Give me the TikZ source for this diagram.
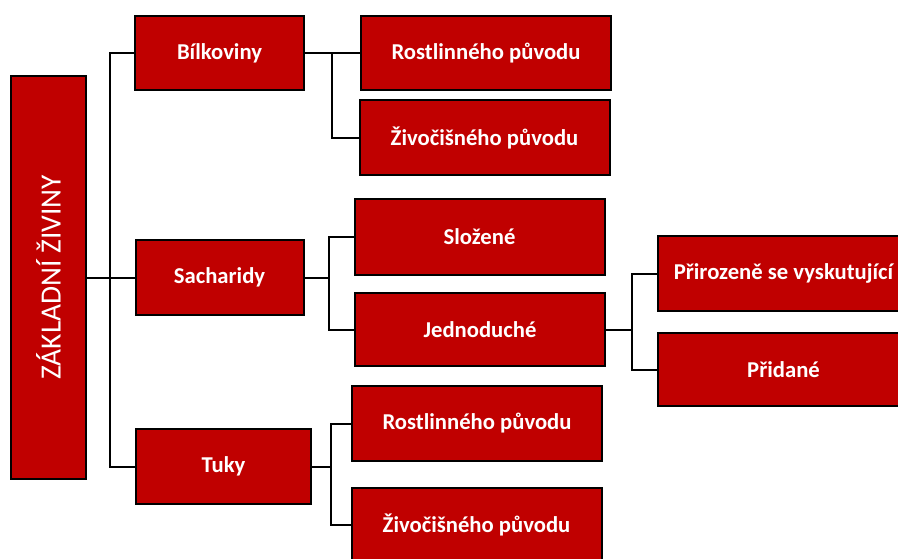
\documentclass[tikz,border=0pt]{standalone}
\usepackage{fontspec}
\setmainfont{Carlito}
\usetikzlibrary{positioning}
\definecolor{boxred}{HTML}{C00000}

\begin{document}
\begin{tikzpicture}[x=0.75pt,y=-0.75pt,
        box/.style={draw=black,line width=1.5pt,fill=boxred,text=white,
            font=\fontsize{17}{19}\selectfont\bfseries,inner sep=0pt,
            minimum width=0.75*250pt,minimum height=0.75*74pt},
        conn/.style={draw=black,line width=1.5pt}]
        % Canvas
        \useasboundingbox (0,0) rectangle (898,558);
        \clip (0,0) rectangle (898,558);

        % Root box (vertical text)
        \node[box,minimum width=0.75*75pt,minimum height=0.75*403pt,font=\fontsize{22}{24}\selectfont] (root) at (48.5,277.5)
            {\rotatebox{90}{ZÁKLADNÍ ŽIVINY}};

        % First level
        \node[box,minimum width=0.75*169pt] (bilk) at (219.5,53) {Bílkoviny};
        \node[box,minimum width=0.75*168pt,minimum height=0.75*75pt] (sach) at (219.5,277.5) {Sacharidy};
        \node[box,minimum width=0.75*175pt,minimum height=0.75*75pt] (tuky) at (223.5,466.5) {Tuky};

        % Second level
        \node[box] (rost1) at (486,53) {Rostlinného původu};
        \node[box,minimum height=0.75*75pt] (ziv1) at (484.5,137.5) {Živočišného původu};
        \node[box,minimum height=0.75*76pt] (sloz) at (479.5,237) {Složené};
        \node[box,minimum height=0.75*73pt] (jedn) at (480,329.5) {Jednoduché};
        \node[box,minimum height=0.75*75pt] (rost3) at (477,423.5) {Rostlinného původu};
        \node[box] (ziv3) at (476.5,525) {Živočišného původu};

        % Third level
        \node[box,minimum width=0.75*251pt,minimum height=0.75*75pt] (prir) at (783.5,273.5) {Přirozeně se vyskutující};
        \node[box,minimum width=0.75*251pt,minimum height=0.75*73pt] (prid) at (783.5,369.5) {Přidané};

        % Branch points
        \coordinate (t1) at (110,277.5);
        \coordinate (t2) at (332,53);
        \coordinate (t3) at (329,277.5);
        \coordinate (t4) at (632,329.5);
        \coordinate (t5) at (331,466.5);

        % Connectors
        \draw[conn] (root.east) -- (t1) -- (sach.west);
        \draw[conn] (bilk.west) -| (t1) |- (tuky.west);
        \draw[conn] (bilk.east) -- (t2) -- (rost1.west);
        \draw[conn] (t2) |- (ziv1.west);
        \draw[conn] (sach.east) -- (t3);
        \draw[conn] (sloz.west) -| (t3) |- (jedn.west);
        \draw[conn] (jedn.east) -- (t4);
        \draw[conn] (prir.west) -| (t4) |- (prid.west);
        \draw[conn] (tuky.east) -- (t5);
        \draw[conn] (rost3.west) -| (t5) |- (ziv3.west);
\end{tikzpicture}
\end{document}
